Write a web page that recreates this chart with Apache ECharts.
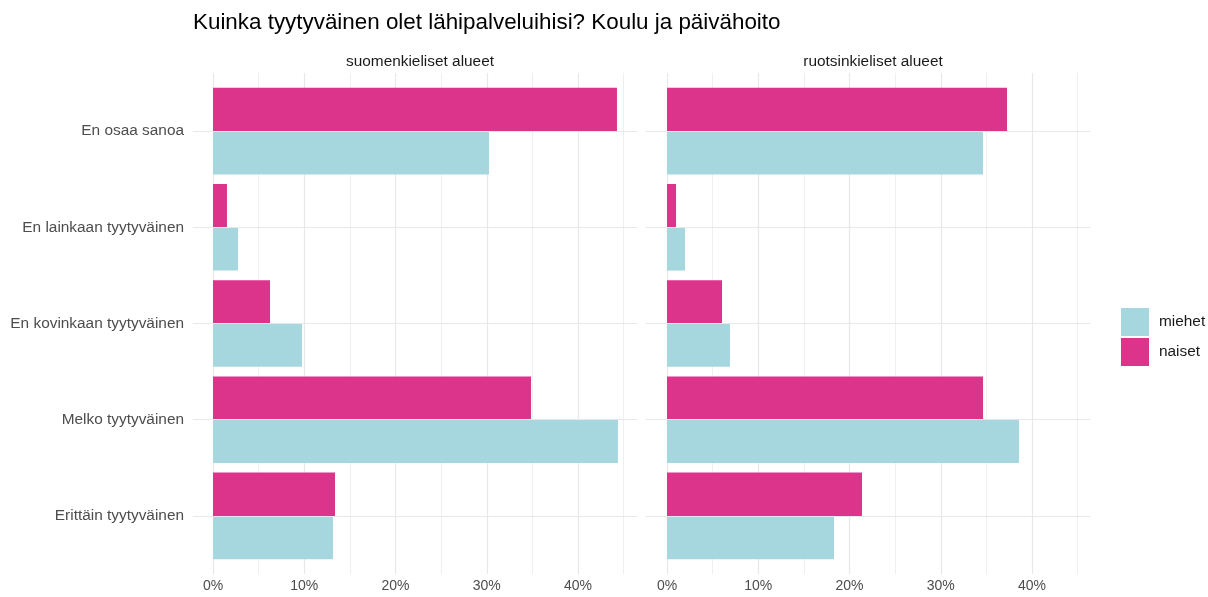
<!DOCTYPE html>
<html>
<head>
<meta charset="utf-8">
<script src="https://cdn.jsdelivr.net/npm/echarts@6/dist/echarts.min.js"></script>
<style>
  html, body { margin: 0; padding: 0; background: #fff; }
  #chart { width: 1208px; height: 597px; }
</style>
</head>
<body>
<div id="chart"></div>
<script>
// Données (pourcentages)
const categories = [
  "En osaa sanoa",
  "En lainkaan tyytyväinen",
  "En kovinkaan tyytyväinen",
  "Melko tyytyväinen",
  "Erittäin tyytyväinen",
];
const panels = ["suomenkieliset alueet", "ruotsinkieliset alueet"];
const fiMiehet = [30.25, 2.74, 9.75, 44.38, 13.15];
const fiNaiset = [44.27, 1.53, 6.25, 34.85, 13.37];
const svMiehet = [34.63, 1.97, 6.9, 38.58, 18.3];
const svNaiset = [37.26, 0.99, 6.03, 34.63, 21.37];
const panelData = [
  { miehet: fiMiehet, naiset: fiNaiset },
  { miehet: svMiehet, naiset: svNaiset },
];

const colors = { miehet: "#a6d7de", naiset: "#dc338b" };
const font = "'Liberation Sans', Arial, sans-serif";

// Mise en page (pixels)
const PX = 9.125; // pixels par %
const zeroX = [213, 667];
const panelLeft = [193, 646];
const panelW = 444;
const panelTop = 73, panelH = 501;
const bandTop = 83, bandH = 481;

const grid = [], xAxis = [], yAxis = [], series = [];

panels.forEach((name, i) => {
  const g = grid.length;
  // grille mineure (5 %)
  grid.push({ left: zeroX[i], top: panelTop, width: 45 * PX, height: panelH });
  // grille majeure (10 %) + étiquettes
  grid.push({ left: zeroX[i], top: panelTop, width: 40 * PX, height: panelH });
  // lignes horizontales
  grid.push({ left: panelLeft[i], top: bandTop, width: panelW, height: bandH });
  // barres
  grid.push({ left: zeroX[i], top: bandTop, width: 45 * PX, height: bandH });

  xAxis.push({
    gridIndex: g, type: "value", min: 0, max: 45, interval: 5,
    axisLabel: { show: false }, axisLine: { show: false }, axisTick: { show: false },
    splitLine: { show: true, lineStyle: { color: "#ebebeb", width: 0.8 } },
  });
  xAxis.push({
    gridIndex: g + 1, type: "value", min: 0, max: 40, interval: 10,
    axisLine: { show: false }, axisTick: { show: false },
    axisLabel: { formatter: "{value}%", color: "#4d4d4d", fontSize: 14, fontFamily: font, margin: 5 },
    splitLine: { show: true, lineStyle: { color: "#e8e8e8", width: 1.2 } },
  });
  xAxis.push({ gridIndex: g + 2, type: "value", min: 0, max: 1, show: false });
  xAxis.push({ gridIndex: g + 3, type: "value", min: 0, max: 45, show: false });

  yAxis.push({ gridIndex: g, type: "value", show: false });
  yAxis.push({ gridIndex: g + 1, type: "value", show: false });
  yAxis.push({
    gridIndex: g + 2, type: "category", inverse: true, data: categories,
    axisLine: { show: false }, axisTick: { show: false }, splitLine: { show: false },
    axisLabel: {
      show: i === 0, color: "#4d4d4d", fontSize: 15.4, fontFamily: font, margin: 9,
      padding: [5, 0, 0, 0],
    },
  });
  yAxis.push({ gridIndex: g + 3, type: "category", inverse: true, data: categories, show: false });

  series.push({
    type: "bar", xAxisIndex: g + 2, yAxisIndex: g + 2, data: [], silent: true, z: 1,
    markLine: {
      silent: true, symbol: ["none", "none"], label: { show: false },
      lineStyle: { type: "solid", color: "#e8e8e8", width: 1.2 },
      data: categories.map((c) => ({ yAxis: c })),
    },
  });
  ["naiset", "miehet"].forEach((s) => {
    series.push({
      name: s, type: "bar", xAxisIndex: g + 3, yAxisIndex: g + 3,
      data: panelData[i][s], barGap: "0%", barCategoryGap: "10%",
      itemStyle: { color: colors[s] }, z: 3,
    });
  });
});

const stripStyle = { fontSize: 15.4, fontWeight: "normal", color: "#1a1a1a", fontFamily: font };

const chart = echarts.init(document.getElementById("chart"));
chart.setOption({
  animation: false,
  backgroundColor: "#fff",
  title: [
    {
      text: "Kuinka tyytyväinen olet lähipalveluihisi? Koulu ja päivähoito",
      left: 188, top: 7,
      textStyle: { fontSize: 22.4, fontWeight: "normal", color: "#000", fontFamily: font },
    },
    { text: panels[0], left: panelLeft[0] + panelW / 2, top: 49, textAlign: "center", textStyle: stripStyle },
    { text: panels[1], left: panelLeft[1] + panelW / 2, top: 49, textAlign: "center", textStyle: stripStyle },
  ],
  legend: {
    data: ["miehet", "naiset"], orient: "vertical", left: 1116, top: 303,
    icon: "rect", itemWidth: 28, itemHeight: 28, itemGap: 2,
    textStyle: { fontSize: 15.4, color: "#1a1a1a", fontFamily: font, padding: [0, 0, 0, 5] },
  },
  grid, xAxis, yAxis, series,
});
</script>
</body>
</html>
